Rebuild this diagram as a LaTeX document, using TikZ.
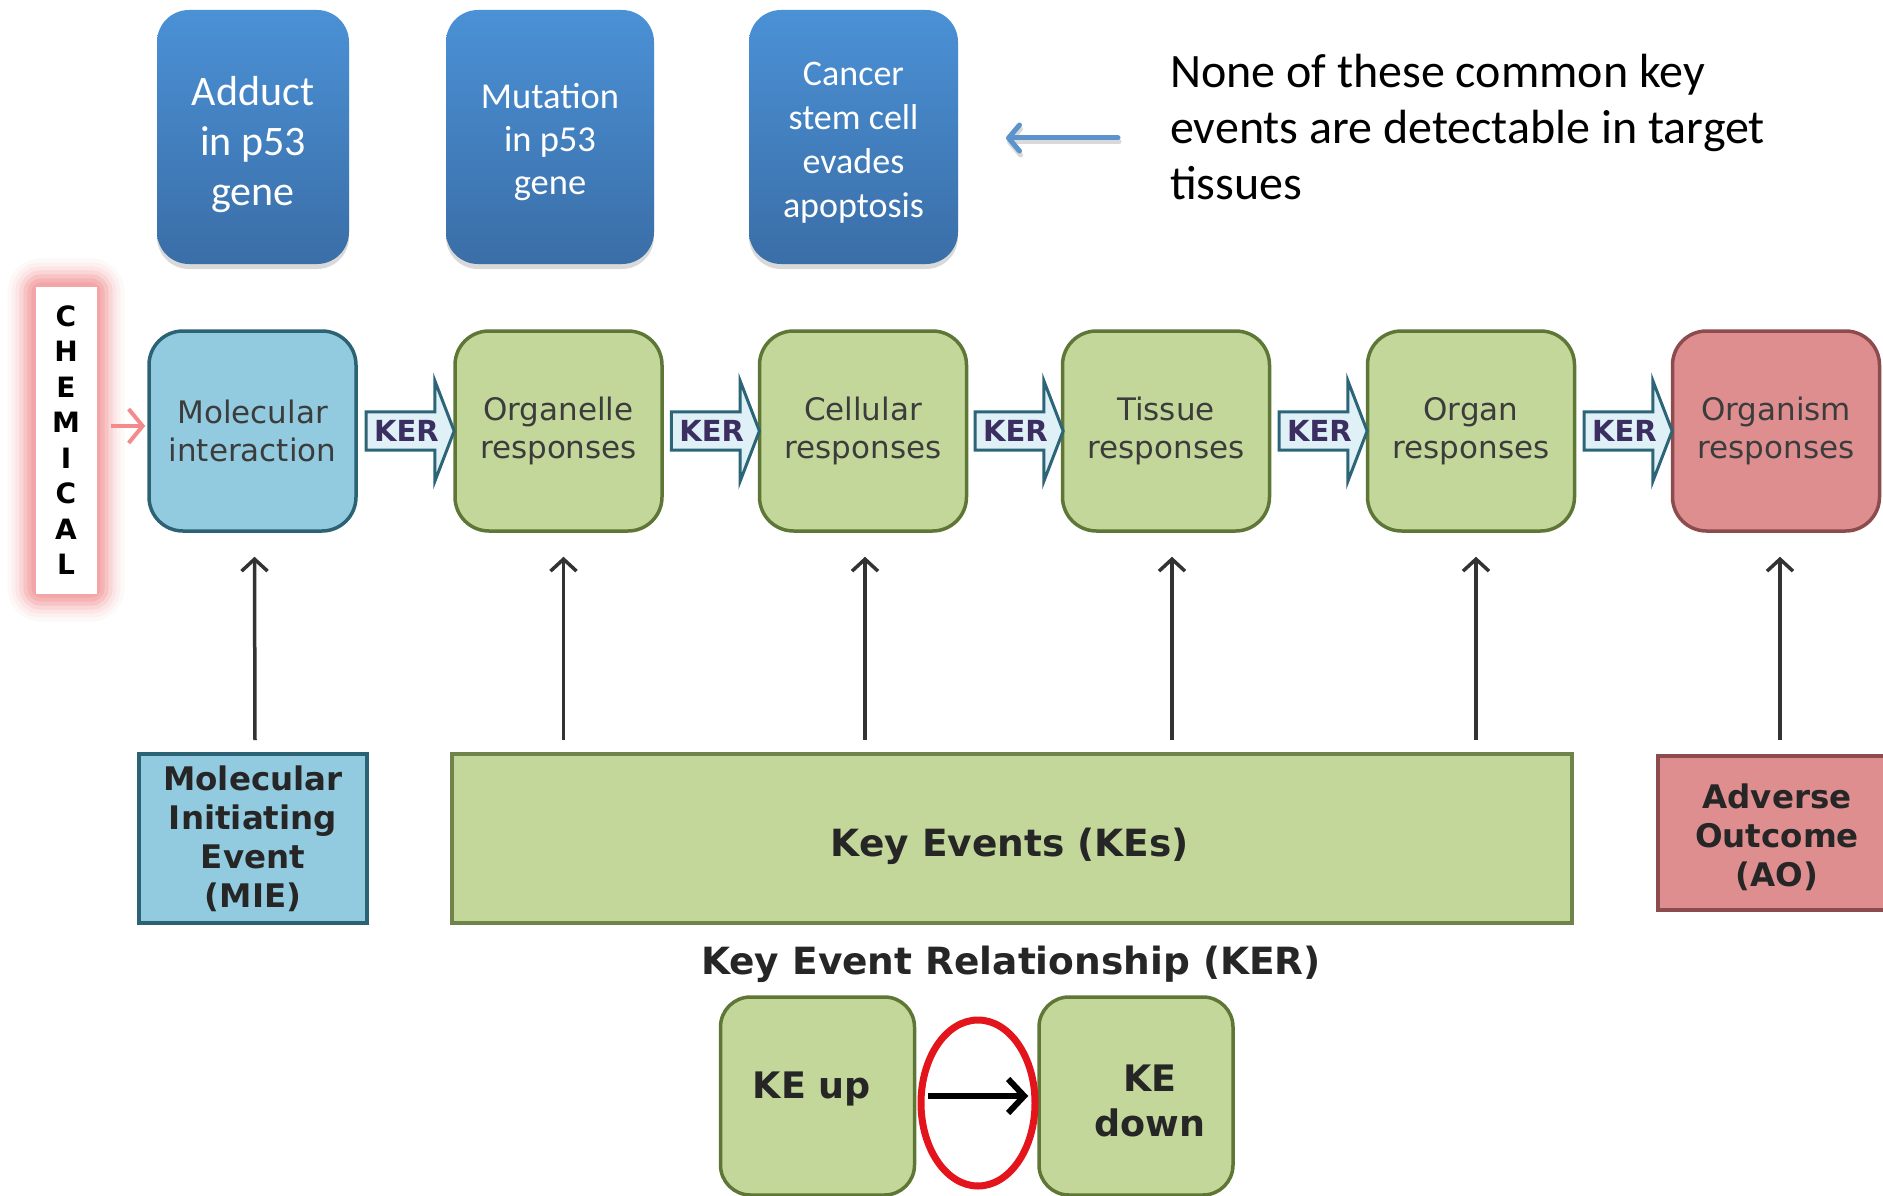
\documentclass[tikz,border=0pt]{standalone}
\usepackage{fontspec}
\setmainfont{Carlito}
\newfontfamily\vfont{DejaVu Sans}
\usetikzlibrary{shapes.geometric,shapes.arrows,arrows.meta,shadows,backgrounds,calc}
\definecolor{topblueA}{HTML}{4B91D6}
\definecolor{topblueB}{HTML}{3A6EA7}
\definecolor{molfill}{HTML}{92CBE0}
\definecolor{molline}{HTML}{2C6374}
\definecolor{grnfill}{HTML}{C4D79B}
\definecolor{grnline}{HTML}{5E7636}
\definecolor{redfill}{HTML}{DF8E90}
\definecolor{redline}{HTML}{8C4B4D}
\definecolor{kerfill}{HTML}{DFF0F6}
\definecolor{kerline}{HTML}{2C6577}
\definecolor{kertext}{HTML}{3B2F62}
\definecolor{notearrow}{HTML}{5B93CC}
\definecolor{chempink}{HTML}{F29A9C}
\definecolor{boxtext}{HTML}{3C3C3C}
\definecolor{ringred}{HTML}{E3141B}
\tikzset{
  topbox/.style={rounded corners=32pt, top color=topblueA, bottom color=topblueB,
    inner sep=0pt, minimum height=254pt,
    drop shadow={opacity=0.3, shadow xshift=0pt, shadow yshift=-5pt}},
  toptext/.style={text=white, align=center, inner sep=0pt},
  midbox/.style={rounded corners=34pt, draw, line width=3.5pt, minimum width=207pt,
    minimum height=200pt, align=center, inner sep=0pt,
    font=\vfont\fontsize{31}{38}\selectfont, text=boxtext},
  molbox/.style={midbox, fill=molfill, draw=molline},
  grnbox/.style={midbox, fill=grnfill, draw=grnline},
  redbox/.style={midbox, fill=redfill, draw=redline},
  kerarrow/.style={single arrow, draw=kerline, fill=kerfill, line width=3pt,
    minimum height=88pt, minimum width=101pt, single arrow head extend=20pt,
    single arrow tip angle=138, inner sep=0pt,
    font=\vfont\bfseries\fontsize{29}{29}\selectfont, text=kertext},
  uparr/.style={draw=black!80, line width=3.5pt, -{Straight Barb[length=12pt,width=26pt]}},
  lowbox/.style={draw, line width=4pt, align=center, inner sep=0pt,
    font=\vfont\bfseries\fontsize{32.5}{39}\selectfont, text=black!85},
  lowtext/.style={align=center, inner sep=0pt,
    font=\vfont\bfseries\fontsize{32.5}{39}\selectfont, text=black!85},
  kebox/.style={rounded corners=30pt, draw=grnline, fill=grnfill, line width=3.5pt,
    minimum width=194pt, minimum height=198pt, inner sep=0pt},
  ketext/.style={align=center, inner sep=0pt,
    font=\vfont\bfseries\fontsize{36.5}{45}\selectfont, text=black!85},
}
\begin{document}
\begin{tikzpicture}[x=1pt,y=-1pt]
\useasboundingbox (0,0) rectangle (1883,1196);
\clip (0,0) rectangle (1883,1196);

% top blue boxes
\node[topbox, minimum width=192pt] (adduct) at (253,137) {};
\node[topbox, minimum width=208pt] (mutation) at (550,137) {};
\node[topbox, minimum width=209pt] (cancer) at (853.5,137) {};
\node[toptext, font=\fontsize{42}{50}\selectfont] (adducttxt) at (253,145) {Adduct\\in p53\\gene};
\node[toptext, font=\fontsize{36.5}{43}\selectfont] (mutationtxt) at (550,142) {Mutation\\in p53\\gene};
\node[toptext, font=\fontsize{36}{44}\selectfont] (cancertxt) at (853.5,143) {Cancer\\stem cell\\evades\\apoptosis};

% note
\node[anchor=north west, inner sep=0pt, align=left, font=\fontsize{48}{56}\selectfont] (note) at (1170,54)
  {None of these common key\\events are detectable in target\\tissues};
\coordinate (notefrom) at (1118,138);
\coordinate (noteto) at (1006,138);
\draw[draw=black, opacity=0.15, line width=5pt, line cap=round, -{Straight Barb[length=11pt,width=26pt,round]}]
  ($(notefrom)+(1,4)$) -- ($(noteto)+(1,4)$);
\draw[draw=notearrow, line width=5pt, line cap=round, -{Straight Barb[length=11pt,width=26pt,round]}] (notefrom) -- (noteto);

% chemical
\node[fill=white, minimum width=61pt, minimum height=307pt, inner sep=0pt, align=center,
  font=\vfont\bfseries\fontsize{28}{35.5}\selectfont] (chem) at (66,440) {C\\H\\E\\M\\I\\C\\A\\L};
\begin{scope}[on background layer]
\foreach \lw/\op in {56/0.06,48/0.09,40/0.13,32/0.2,24/0.3,16/0.42,8/0.55}
  \draw[chempink, line width=\lw pt, opacity=\op, rounded corners=6pt] (chem.south west) rectangle (chem.north east);
\end{scope}

% middle row
\node[molbox] (mol) at (252.5,431) {Molecular\\interaction};
\node[grnbox] (orgl) at (558.5,431) {Organelle\\responses};
\node[grnbox] (cell) at (863,431) {Cellular\\responses};
\node[grnbox] (tiss) at (1166,431) {Tissue\\responses};
\node[grnbox] (organ) at (1471,431) {Organ\\responses};
\node[redbox] (orgism) at (1776,431) {Organism\\responses};

\draw[draw=chempink!90!red, line width=4pt, -{Straight Barb[length=14pt,width=34pt]}]
  ($(chem.east)+(14,-14)$) -- ($(mol.west)+(-2,-5)$);

\node[kerarrow] (k1) at ($(mol.east)!0.5!(orgl.west)+(1,0)$) {KER};
\node[kerarrow] (k2) at ($(orgl.east)!0.5!(cell.west)+(1,0)$) {KER};
\node[kerarrow] (k3) at ($(cell.east)!0.5!(tiss.west)+(1,0)$) {KER};
\node[kerarrow] (k4) at ($(tiss.east)!0.5!(organ.west)+(1,0)$) {KER};
\node[kerarrow] (k5) at ($(organ.east)!0.5!(orgism.west)+(1,0)$) {KER};

% lower boxes
\node[lowbox, fill=molfill, draw=molline, minimum width=228pt, minimum height=169pt] (mie) at (253,838.5)
  {Molecular\\Initiating\\Event\\(MIE)};
\node[lowbox, fill=grnfill, draw=grnline!90!white, minimum width=1120pt, minimum height=169pt] (ke) at (1012,838.5) {};
\node[lowtext, font=\vfont\bfseries\fontsize{37.5}{39}\selectfont] (ketxt) at (1010,846) {Key Events (KEs)};
\node[lowbox, fill=redfill, draw=redline, minimum width=242pt, minimum height=154pt] (ao) at (1779,833) {};
\node[lowtext] (aotxt) at (1777,837) {Adverse\\Outcome\\(AO)};

% vertical arrows
\draw[uparr] ($(mie.north)+(2,-12)$) -- ($(mol.south)+(2,24)$);
\draw[uparr] ($(orgl.south |- ke.north)+(5,-12)$) -- ($(orgl.south)+(5,24)$);
\draw[uparr] ($(cell.south |- ke.north)+(2,-12)$) -- ($(cell.south)+(2,24)$);
\draw[uparr] ($(tiss.south |- ke.north)+(6,-12)$) -- ($(tiss.south)+(6,24)$);
\draw[uparr] ($(organ.south |- ke.north)+(5,-12)$) -- ($(organ.south)+(5,24)$);
\draw[uparr] ($(orgism.south |- ao.north)+(4,-14)$) -- ($(orgism.south)+(4,24)$);

% KER detail
\node[inner sep=0pt, font=\vfont\bfseries\fontsize{37.5}{40}\selectfont, text=black!85] (kertitle) at (1011,964)
  {Key Event Relationship (KER)};
\node[kebox] (keup) at (817.5,1096) {};
\node[kebox] (kedown) at (1136,1096) {};
\node[ketext] (keuptxt) at (812,1089) {KE up};
\node[ketext] (kedowntxt) at (1150,1101) {KE\\down};
\node[ellipse, draw=ringred, line width=7pt, minimum width=114pt, minimum height=166pt, inner sep=0pt] (ring) at (978,1103) {};
\draw[line width=6pt, black, -{Straight Barb[length=16pt,width=34pt]}] ($(keup.east)+(12,0)$) -- ($(kedown.west)+(-9,0)$);
\end{tikzpicture}
\end{document}
